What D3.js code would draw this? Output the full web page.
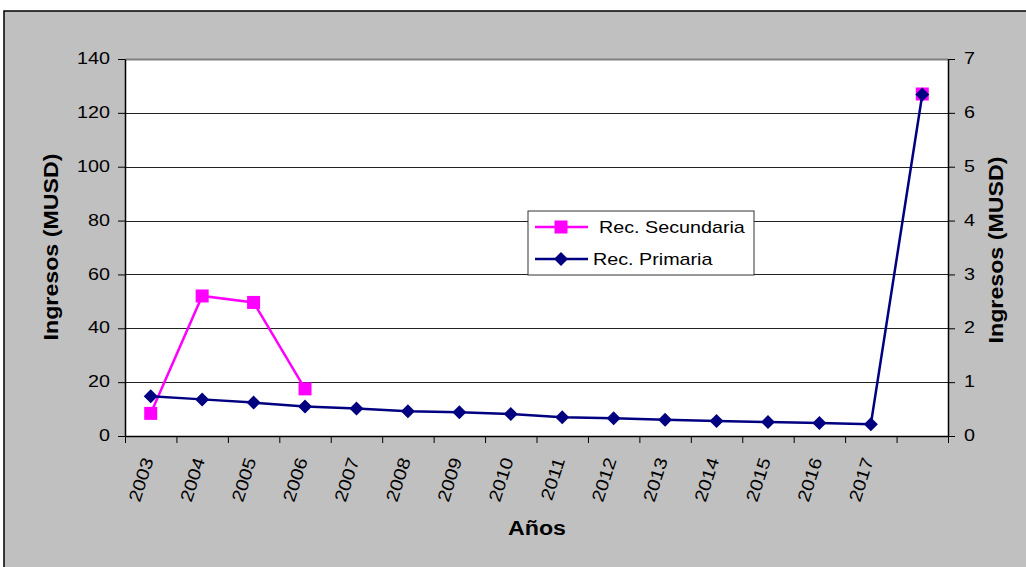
<!DOCTYPE html>
<html>
<head>
<meta charset="utf-8">
<script src="https://cdn.jsdelivr.net/npm/d3@7/dist/d3.min.js"></script>
<style>
  html, body { margin: 0; padding: 0; background: #ffffff; }
  svg { display: block; }
  text { font-family: "Liberation Sans", Arial, sans-serif; fill: #000; }
</style>
</head>
<body>
<svg id="chart" width="1026" height="567"></svg>
<script>
// Years on the category axis (last slot has no label)
const categories = ["2003","2004","2005","2006","2007","2008","2009","2010",
                    "2011","2012","2013","2014","2015","2016","2017",""];
// Rec. Primaria, right axis (MUSD)
const primaria = [0.74,0.68,0.62,0.55,0.51,0.46,0.44,0.41,
                  0.35,0.33,0.30,0.28,0.26,0.24,0.22,6.34];
// Rec. Secundaria, left axis (MUSD)
const secundaria = [8.4,52,49.6,17.5,null,null,null,null,
                    null,null,null,null,null,null,null,127];
const leftTicks = [0,20,40,60,80,100,120,140];
const rightTicks = [0,1,2,3,4,5,6,7];
const seriesNames = ["Rec. Secundaria","Rec. Primaria"];

const svg = d3.select("#chart");
const plot = { left: 125, right: 948, top: 59, bottom: 436 };
const FONT_STRETCH = 1.16;

// widen glyphs slightly, the way the chart's typeface runs
function widen(sel) {
  sel.each(function () {
    const L = this.getComputedTextLength();
    this.setAttribute("textLength", L * FONT_STRETCH);
    this.setAttribute("lengthAdjust", "spacingAndGlyphs");
  });
}

// grey chart area with black frame
svg.append("rect").attr("x", 4).attr("y", 11).attr("width", 1040).attr("height", 580)
  .attr("fill", "#c0c0c0").attr("stroke", "#000").attr("stroke-width", 1.5);

// plot area
svg.append("rect").attr("x", plot.left).attr("y", plot.top)
  .attr("width", plot.right - plot.left).attr("height", plot.bottom - plot.top)
  .attr("fill", "#fff");

const xEdge = d3.scaleLinear().domain([0, categories.length]).range([plot.left, plot.right]);
const xBand = d3.scaleBand().domain(d3.range(categories.length)).range([plot.left, plot.right]);
const cx = i => xBand(i) + xBand.bandwidth() / 2;
const yL = d3.scaleLinear().domain([0, 140]).range([plot.bottom, plot.top]);
const yR = d3.scaleLinear().domain([0, 7]).range([plot.bottom, plot.top]);

// gridlines
svg.append("g").selectAll("line").data(leftTicks.filter(d => d > 0)).join("line")
  .attr("x1", plot.left).attr("x2", plot.right)
  .attr("y1", d => Math.round(yL(d)) + 0.5).attr("y2", d => Math.round(yL(d)) + 0.5)
  .attr("stroke", d => d === 140 ? "#808080" : "#222")
  .attr("stroke-width", d => d === 140 ? 2 : 1);

// left axis
const gL = svg.append("g").attr("transform", `translate(${plot.left},0)`)
  .call(d3.axisLeft(yL).tickValues(leftTicks).tickFormat(d3.format("d"))
    .tickSize(7).tickSizeOuter(0).tickPadding(8));
gL.select(".domain").attr("stroke", "#000").attr("stroke-width", 1.5);
gL.selectAll(".tick line").attr("stroke", "#000");
gL.selectAll(".tick text").attr("font-size", 17).attr("dy", "0.27em")
  .attr("font-family", "'Liberation Sans', Arial, sans-serif").call(widen);

// right axis
const gR = svg.append("g").attr("transform", `translate(${plot.right},0)`)
  .call(d3.axisRight(yR).tickValues(rightTicks).tickFormat(d3.format("d"))
    .tickSize(7).tickSizeOuter(0).tickPadding(9));
gR.select(".domain").attr("stroke", "#000").attr("stroke-width", 1.5);
gR.selectAll(".tick line").attr("stroke", "#000");
gR.selectAll(".tick text").attr("font-size", 17).attr("dy", "0.27em")
  .attr("font-family", "'Liberation Sans', Arial, sans-serif").call(widen);

// category axis: ticks on the boundaries between years
const gB = svg.append("g").attr("transform", `translate(0,${plot.bottom})`)
  .call(d3.axisBottom(xEdge).tickValues(d3.range(categories.length + 1))
    .tickSize(7).tickSizeOuter(0).tickFormat(""));
gB.select(".domain").attr("stroke", "#000").attr("stroke-width", 1.5);
gB.selectAll(".tick line").attr("stroke", "#000");

// rotated year labels
svg.append("g").selectAll("text").data(categories).join("text")
  .attr("transform", (d, i) => `translate(${cx(i) + 3},${plot.bottom + 24}) rotate(-72)`)
  .attr("text-anchor", "end").attr("font-size", 17.5)
  .text(d => d).call(widen);

// axis titles
svg.append("text").attr("transform", "translate(58,247) rotate(-90)")
  .attr("text-anchor", "middle").attr("font-size", 20).attr("font-weight", "bold")
  .text("Ingresos (MUSD)").call(widen);
svg.append("text").attr("transform", "translate(1003,250) rotate(-90)")
  .attr("text-anchor", "middle").attr("font-size", 20).attr("font-weight", "bold")
  .text("Ingresos (MUSD)").call(widen);
svg.append("text").attr("x", 537).attr("y", 535)
  .attr("text-anchor", "middle").attr("font-size", 20).attr("font-weight", "bold")
  .text("Años").call(widen);

const magenta = "#ff00ff", navy = "#000080";

// Rec. Secundaria (left axis)
const lineS = d3.line().defined(d => d != null).x((d, i) => cx(i)).y(d => yL(d));
svg.append("path").datum(secundaria).attr("d", lineS)
  .attr("fill", "none").attr("stroke", magenta).attr("stroke-width", 2.5);
svg.append("g").selectAll("rect")
  .data(secundaria.map((v, i) => ({ v, i })).filter(d => d.v != null)).join("rect")
  .attr("x", d => cx(d.i) - 6.5).attr("y", d => yL(d.v) - 6.5)
  .attr("width", 13).attr("height", 13).attr("fill", magenta);

// Rec. Primaria (right axis)
const lineP = d3.line().x((d, i) => cx(i)).y(d => yR(d));
svg.append("path").datum(primaria).attr("d", lineP)
  .attr("fill", "none").attr("stroke", navy).attr("stroke-width", 2.5);
const diamond = (x, y, r) => `M${x},${y - r}L${x + r},${y}L${x},${y + r}L${x - r},${y}Z`;
svg.append("g").selectAll("path").data(primaria).join("path")
  .attr("d", (d, i) => diamond(cx(i), yR(d), 7)).attr("fill", navy);

// legend
const lg = svg.append("g");
lg.append("rect").attr("x", 528).attr("y", 211).attr("width", 226).attr("height", 64)
  .attr("fill", "#fff").attr("stroke", "#333").attr("stroke-width", 1);
const legendRows = [
  { name: seriesNames[0], color: magenta, shape: "square", y: 227, tx: 599 },
  { name: seriesNames[1], color: navy, shape: "diamond", y: 259, tx: 593 }
];
legendRows.forEach(r => {
  lg.append("line").attr("x1", 535).attr("x2", 588).attr("y1", r.y).attr("y2", r.y)
    .attr("stroke", r.color).attr("stroke-width", 2.5);
  if (r.shape === "square") {
    lg.append("rect").attr("x", 561 - 6.5).attr("y", r.y - 6.5)
      .attr("width", 13).attr("height", 13).attr("fill", r.color);
  } else {
    lg.append("path").attr("d", diamond(561, r.y, 7)).attr("fill", r.color);
  }
  lg.append("text").attr("x", r.tx).attr("y", r.y).attr("dy", "0.35em")
    .attr("font-size", 17).text(r.name).call(widen);
});
</script>
</body>
</html>
